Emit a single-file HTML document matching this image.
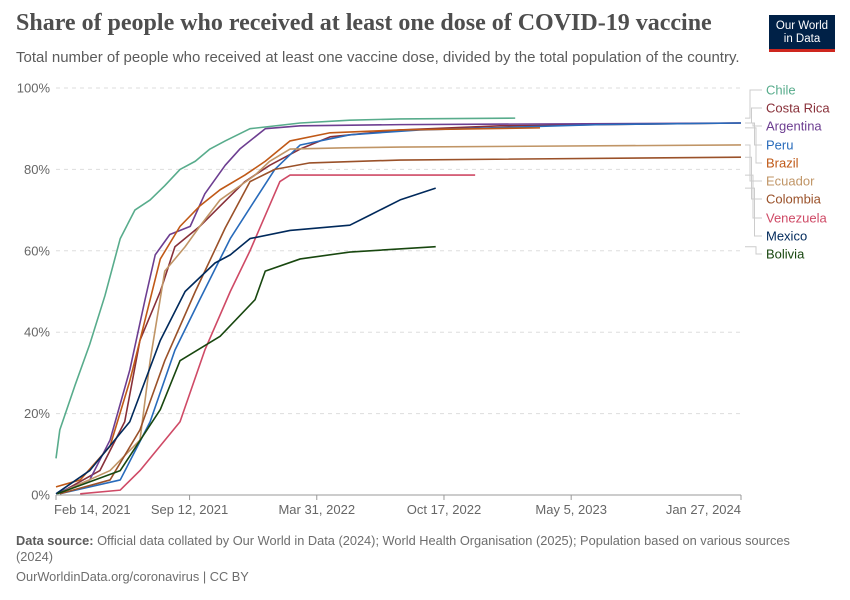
<!DOCTYPE html>
<html><head><meta charset="utf-8"><style>
body{margin:0;background:#fff;}
#wrap{position:relative;width:850px;height:600px;font-family:"Liberation Sans",sans-serif;overflow:hidden}
.t{position:absolute;white-space:nowrap}
</style></head><body>
<div id="wrap">
<div class="t" style="left:16px;top:10px;font-family:'Liberation Serif',serif;font-size:24px;font-weight:bold;color:#4e4e4e">Share of people who received at least one dose of COVID-19 vaccine</div>
<div class="t" style="left:16px;top:49px;font-size:15px;color:#5b5b5b">Total number of people who received at least one vaccine dose, divided by the total population of the country.</div>
<div style="position:absolute;left:769px;top:15px;width:66px;height:37px;background:#002147;color:#fff;font-size:11.5px;line-height:13px;text-align:center;padding-top:5px;box-sizing:border-box;border-bottom:3px solid #ce261e">Our World<br>in Data</div>
<svg id="chart" width="850" height="600" style="position:absolute;left:0;top:0"></svg>
<div class="t" style="left:16px;top:533px;font-size:12.8px;color:#6e6e6e;white-space:normal;width:790px;line-height:16px"><b style="color:#5b5b5b">Data source:</b> Official data collated by Our World in Data (2024); World Health Organisation (2025); Population based on various sources (2024)</div>
<div class="t" style="left:16px;top:569px;font-size:12.8px;color:#6e6e6e">OurWorldinData.org/coronavirus | CC BY</div>
</div>
<script>
const xTickLabels=["Feb 14, 2021","Sep 12, 2021","Mar 31, 2022","Oct 17, 2022","May 5, 2023","Jan 27, 2024"];
const xTickDays=[0,210,410,610,810,1077];
const yTicks=[0,20,40,60,80,100];
const names=["Chile","Costa Rica","Argentina","Peru","Brazil","Ecuador","Colombia","Venezuela","Mexico","Bolivia"];
const colors=["#58ac8c","#883039","#6d3e91","#286bbb","#c05917","#c09566","#9a5129","#cf4a66","#00295b","#18470f"];
const chile=[[0,9],[6,16],[30,27],[53,37],[77,49],[101,63],[124,70],[148,72.5],[171,76],[195,80],[219,82],[242,85],[266,87],[305,90],[384,91.4],[462,92.1],[541,92.4],[722,92.6]];
const costaRica=[[6,0.5],[69,6],[108,18],[132,38],[164,50],[187,61],[226,66],[258,71],[297,77],[336,81],[384,85],[431,88],[541,89.7],[698,90.7],[1077,91.4]];
const argentina=[[2,0.5],[53,3.7],[85,13.5],[116,30.7],[140,48],[156,59],[179,64],[211,66],[234,74],[266,81],[289,85],[329,90],[384,90.7],[541,91],[1077,91.4]];
const peru=[[6,0.3],[101,3.7],[148,18],[187,35.6],[226,48],[274,63],[313,72.5],[344,80],[384,86],[462,88.5],[572,89.7],[855,91],[1077,91.4]];
const brazil=[[0,2],[38,3.7],[85,12],[116,28],[140,43],[164,58],[195,66],[226,71],[258,75],[297,78.6],[329,82],[368,87],[431,89],[541,89.7],[761,90.2]];
const ecuador=[[6,0.5],[85,6],[132,13.5],[148,33],[171,55],[203,61],[226,66],[258,72.5],[313,78.6],[336,82],[368,85],[454,85.3],[541,85.5],[1077,86]];
const colombia=[[6,0.3],[85,3.7],[132,16],[171,33],[219,50],[266,65.6],[305,77],[344,80],[399,81.6],[541,82.3],[1077,83]];
const venezuela=[[38,0.3],[101,1.2],[132,6],[195,18],[234,35.6],[274,50],[305,60],[352,77],[368,78.6],[659,78.6]];
const mexico=[[0,0.3],[53,6],[116,18],[164,38],[203,50],[250,57],[274,59],[305,63],[368,65],[462,66.3],[494,68.8],[541,72.5],[597,75.4]];
const bolivia=[[2,0.3],[101,6],[164,21],[195,33],[258,39],[313,48],[329,55],[384,58],[462,59.7],[597,61]];
const series=[chile,costaRica,argentina,peru,brazil,ecuador,colombia,venezuela,mexico,bolivia];
const X0=56,X1=741,DMAX=1077,Y0=495,Y1=88;
const xs=d=>X0+(X1-X0)*d/DMAX, ys=v=>Y0-(Y0-Y1)*v/100;
const svg=document.getElementById('chart');const NS='http://www.w3.org/2000/svg';
function mk(t,a){const e=document.createElementNS(NS,t);for(const k in a)e.setAttribute(k,a[k]);svg.appendChild(e);return e;}
yTicks.forEach(v=>{
 if(v>0){const g=mk('line',{x1:X0,x2:X1,y1:ys(v),y2:ys(v),stroke:'#ddd','stroke-dasharray':'4,4'});
 
 }
 const t=mk('text',{x:50,y:ys(v)+4.5,'text-anchor':'end','font-size':13,fill:'#666','font-family':'Liberation Sans, sans-serif'});t.textContent=v+'%';
 
 
});
const ax=mk('line',{x1:X0,x2:X1,y1:Y0,y2:Y0,stroke:'#999'});


xTickLabels.forEach((l,i)=>{
 const x=xs(xTickDays[i]);
 const tk=mk('line',{x1:x,x2:x,y1:Y0,y2:Y0+5,stroke:'#999'});
 
 
 const anc=i==0?'start':(i==xTickLabels.length-1?'end':'middle');
 const t=mk('text',{x:i==0?x-2:x,y:514,'text-anchor':anc,'font-size':13,fill:'#666','font-family':'Liberation Sans, sans-serif'});t.textContent=l;
 
 
});
series.forEach((s,i)=>{
 const p=mk('polyline',{points:s.map(q=>xs(q[0])+','+ys(q[1])).join(' '),fill:'none',stroke:colors[i],'stroke-width':1.6,'stroke-linejoin':'round'});
 
 
});
const labelY=[90,108,126,145,163,181,199,218,236,254];
series.forEach((s,i)=>{
 const last=s[s.length-1];const ly=ys(last[1]);const cx=748+(i%5)*1.5+2;
 const c=mk('polyline',{points:(X1+4)+','+ly+' '+cx+','+ly+' '+cx+','+labelY[i]+' '+762+','+labelY[i],fill:'none',stroke:'#ccc','stroke-width':1});
 
 
 const t=mk('text',{x:766,y:labelY[i]+4.5,'font-size':13,fill:colors[i],'font-family':'Liberation Sans, sans-serif'});t.textContent=names[i];
 
 
});
</script>
</body></html>
